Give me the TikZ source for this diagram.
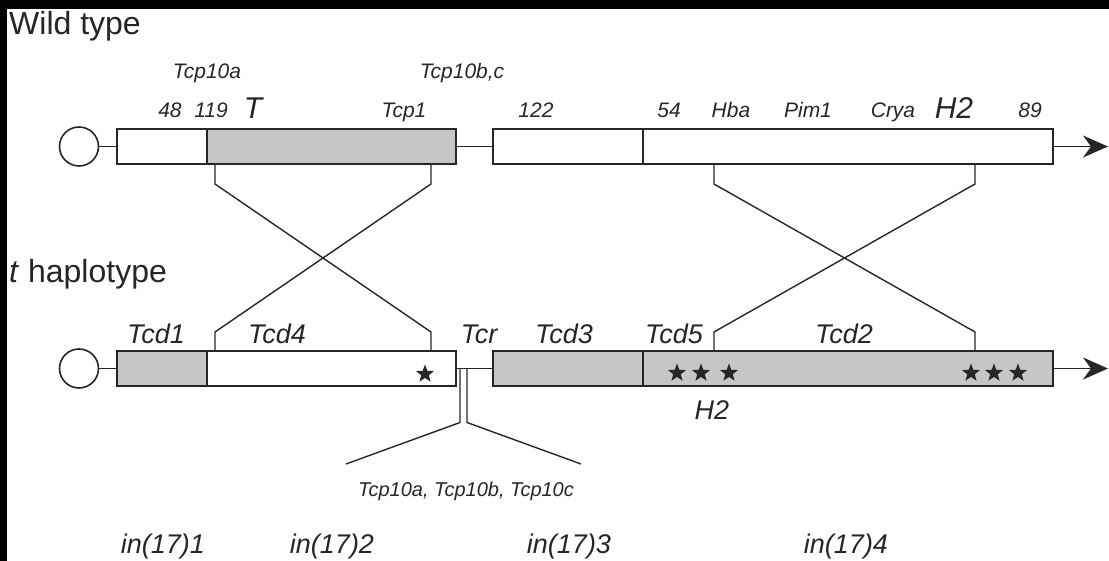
\documentclass[tikz,border=0pt]{standalone}
\usepackage{fontspec}
\setmainfont{Liberation Sans}
\usepackage{tikz}
\usetikzlibrary{arrows.meta,positioning,calc,shapes.geometric}
\definecolor{grisc}{HTML}{C6C6C6}
\tikzset{
  segm/.style={rectangle, draw=black!85, fill=white, line width=2pt,
               minimum height=35pt, inner sep=0pt},
  segmg/.style={segm, fill=grisc},
  centro/.style={circle, draw=black!85, fill=white, line width=1.6pt,
                 minimum size=39pt, inner sep=0pt},
  enlace/.style={draw=black!85, line width=1.7pt},
  flecha/.style={-{Stealth[length=25pt,width=22pt,inset=8pt]}, draw=black!85, line width=1.7pt},
  cruce/.style={draw=black!85, line width=1.4pt},
  chico/.style={font=\fontsize{21}{24}\selectfont\itshape, text=black!85,
                inner sep=0pt, anchor=base},
  grande/.style={font=\fontsize{27}{30}\selectfont\itshape, text=black!85,
                 inner sep=0pt, anchor=base},
  mayor/.style={font=\fontsize{30}{33}\selectfont\itshape, text=black!85,
                inner sep=0pt, anchor=base},
  titulo/.style={font=\fontsize{32}{36}\selectfont, text=black!85,
                 inner sep=0pt, anchor=base west},
  estrella/.style={star, star points=5, star point ratio=2.4, fill=black!85,
                   minimum size=19pt, inner sep=0pt}
}
\begin{document}
\begin{tikzpicture}[x=1pt, y=-1pt]
  \useasboundingbox (0,0) rectangle (1109,561);
  \fill[black] (0,0) rectangle (1109,9);
  \fill[black] (0,0) rectangle (7,561);

  % Tipo silvestre
  \node[titulo] (tw) at (9,35) {Wild type};
  \node[centro] (wc) at (79,146.5) {};
  \node[segm, minimum width=90pt] (w1) at (162,146.5) {};
  \node[segmg, minimum width=249pt] (w2) at (331.5,146.5) {};
  \node[segm, minimum width=150pt] (w3) at (568,146.5) {};
  \node[segm, minimum width=410pt] (w4) at (848,146.5) {};
  \coordinate (wfin) at (1108,146.5);
  \draw[enlace](wc)--(w1);\draw[enlace](w2)--(w3);\draw[flecha](w4)--(wfin);

  \node[chico] (l1) at (207,79) {Tcp10a};
  \node[chico] (l2) at (462,79) {Tcp10b,c};
  \node[chico] (l3) at (170,118) {48};
  \node[chico] (l4) at (211,118) {119};
  \node[mayor] (l5) at (253,119) {T};
  \node[chico] (l6) at (404,118) {Tcp1};
  \node[chico] (l7) at (536,118) {122};
  \node[chico] (l8) at (669,118) {54};
  \node[chico] (l9) at (731,118) {Hba};
  \node[chico] (l10) at (808,118) {Pim1};
  \node[chico] (l11) at (893,118) {Crya};
  \node[mayor] (l12) at (954,119) {H2};
  \node[chico] (l13) at (1030,118) {89};

  % Haplotipo t
  \node[titulo] (tt) at (9,283) {\textit{t} haplotype};
  \node[centro] (tc) at (79,368.5) {};
  \node[segmg, minimum width=90pt] (t1) at (162,368.5) {};
  \node[segm, minimum width=249pt] (t2) at (331.5,368.5) {};
  \node[segmg, minimum width=150pt] (t3) at (568,368.5) {};
  \node[segmg, minimum width=410pt] (t4) at (848,368.5) {};
  \coordinate (tfin) at (1108,368.5);
  \draw[enlace](tc)--(t1);\draw[enlace](t2)--(t3);\draw[flecha](t4)--(tfin);

  \node[grande] (m1) at (156,344) {Tcd1};
  \node[grande] (m2) at (277,344) {Tcd4};
  \node[grande] (m3) at (479,344) {Tcr};
  \node[grande] (m4) at (564,344) {Tcd3};
  \node[grande] (m5) at (674,344) {Tcd5};
  \node[grande] (m6) at (844,344) {Tcd2};
  \node[grande] (m7) at (712,420) {H2};

  \node[estrella] (s0) at (425,374) {};
  \foreach \x/\n in {677/1,701/2,729/3,971/4,994/5,1018/6}
    \node[estrella] (s\n) at (\x,373) {};

  % Inversiones
  \draw[cruce] ($(w2.south west)+(9,0)$) -- ++(0,19) -- ($(t2.north west)+(225,-18)$) -- ++(0,18);
  \draw[cruce] ($(w2.south west)+(225,0)$) -- ++(0,19) -- ($(t2.north west)+(9,-18)$) -- ++(0,18);
  \draw[cruce] ($(w4.south west)+(72,0)$) -- ++(0,19) -- ($(t4.north west)+(333,-18)$) -- ++(0,18);
  \draw[cruce] ($(w4.south west)+(333,0)$) -- ++(0,19) -- ($(t4.north west)+(72,-18)$) -- ++(0,18);

  % Tcp10
  \coordinate (fi) at (346,464);
  \coordinate (fd) at (581,464);
  \draw[cruce] ($(t2.east)+(3,0)$) -- ++(0,54) -- (fi);
  \draw[cruce] ($(t2.east)+(10,0)$) -- ++(0,54) -- (fd);
  \node[chico, font=\fontsize{20}{23}\selectfont\itshape] (lt) at (466,496) {Tcp10a, Tcp10b, Tcp10c};

  \node[grande] (i1) at (163,553) {in(17)1};
  \node[grande] (i2) at (332,553) {in(17)2};
  \node[grande] (i3) at (569,553) {in(17)3};
  \node[grande] (i4) at (846,553) {in(17)4};
\end{tikzpicture}
\end{document}
